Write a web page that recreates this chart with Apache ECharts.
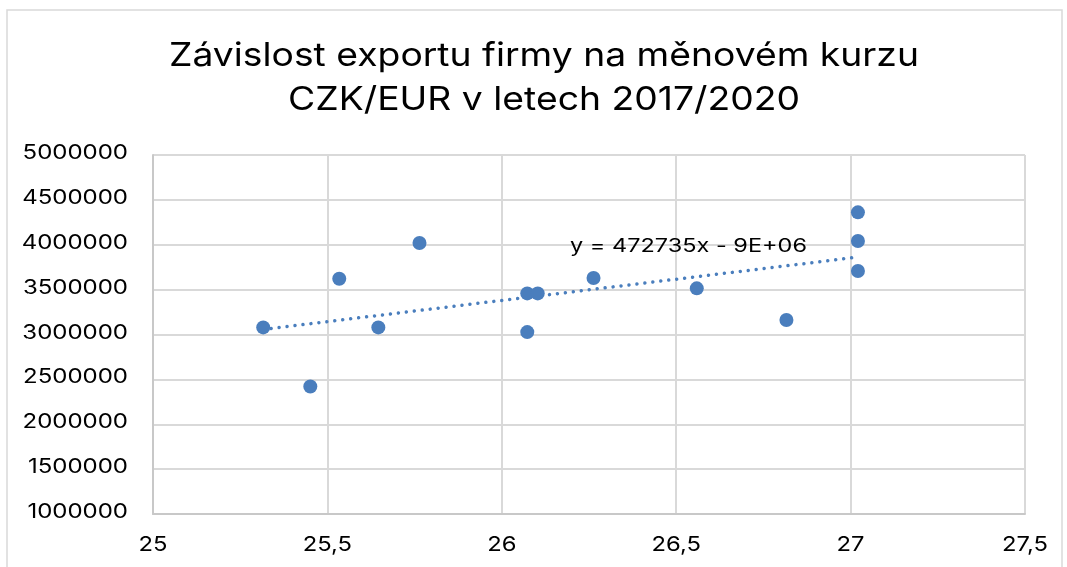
<!DOCTYPE html>
<html>
<head>
<meta charset="utf-8">
<script src="https://cdn.jsdelivr.net/npm/echarts@6/dist/echarts.min.js"></script>
<style>
  html, body { margin: 0; padding: 0; background: #fff; }
  #chart { width: 1067px; height: 567px; }
</style>
</head>
<body>
<div id="chart"></div>
<script>
// Kurz CZK/EUR a export firmy (Kč)
const rates = [25.316, 25.451, 25.534, 25.646, 25.764, 26.073, 26.073, 26.103, 26.263, 26.559, 26.816, 27.021, 27.021, 27.021];
const exports = [3079000, 2421000, 3621000, 3079000, 4019000, 3458000, 3027000, 3458000, 3629000, 3514000, 3161000, 4361000, 4041000, 3707000];

// Popisky os
const xTickLabels = ['25', '25,5', '26', '26,5', '27', '27,5'];
const yTickLabels = ['1000000', '1500000', '2000000', '2500000', '3000000', '3500000', '4000000', '4500000', '5000000'];

// Lineární trend: sklon podle rovnice, úsek z průměrů dat
const slope = 472735;
const equationText = 'y = 472735x - 9E+06';
const titleLines = ['Závislost exportu firmy na měnovém kurzu', 'CZK/EUR v letech 2017/2020'];

const num = s => parseFloat(s.replace(',', '.'));
const xTicks = xTickLabels.map(num);
const yTicks = yTickLabels.map(num);

const mean = a => a.reduce((s, v) => s + v, 0) / a.length;
const intercept = mean(exports) - slope * mean(rates);
const xMin = Math.min(...rates), xMax = Math.max(...rates);
const trend = [[xMin, slope * xMin + intercept], [xMax, slope * xMax + intercept]];

const points = rates.map((r, i) => [r, exports[i]]);
const blue = '#4a7ebd';
const font = 'Inter, "Noto Sans", sans-serif';

const chart = echarts.init(document.getElementById('chart'), null, { renderer: 'canvas' });
chart.setOption({
  animation: false,
  backgroundColor: '#fff',
  grid: { left: 153, right: 42, top: 155, bottom: 53, containLabel: false },
  xAxis: {
    type: 'value', min: xTicks[0], max: xTicks[xTicks.length - 1], interval: xTicks[1] - xTicks[0],
    axisLine: { show: true, lineStyle: { color: '#c8c8c8', width: 2 } },
    axisTick: { show: false },
    axisLabel: { show: false },
    splitLine: { show: true, lineStyle: { color: '#d9d9d9', width: 2 } }
  },
  yAxis: {
    type: 'value', min: yTicks[0], max: yTicks[yTicks.length - 1], interval: yTicks[1] - yTicks[0],
    axisLine: { show: true, lineStyle: { color: '#c8c8c8', width: 2 } },
    axisTick: { show: false },
    axisLabel: { show: false },
    splitLine: { show: true, lineStyle: { color: '#d9d9d9', width: 2 } }
  },
  series: [
    {
      type: 'line',
      data: trend,
      symbol: 'none',
      z: 3,
      lineStyle: { color: blue, width: 3.5, type: [0.01, 8], cap: 'round', opacity: 1 }
    },
    {
      type: 'scatter',
      data: points,
      symbol: 'circle',
      symbolSize: 14,
      z: 4,
      itemStyle: { color: blue, opacity: 1 }
    }
  ]
});

// Písmo grafu je širší než Inter, proto se texty roztahují vodorovně
function label(text, x, y, size, align, sx) {
  return {
    type: 'text', x: x, y: y, scaleX: sx, silent: true, z: 10,
    style: {
      text: text, x: 0, y: 0,
      fontFamily: font, fontSize: size, fill: '#000',
      align: align, verticalAlign: 'middle',
      textAlign: align, textVerticalAlign: 'middle'
    }
  };
}

const toPx = (x, y) => chart.convertToPixel({ gridIndex: 0 }, [x, y]);
const graphics = [
  {
    type: 'rect', silent: true, z: -1,
    shape: { x: 7, y: 10, width: 1055, height: 580 },
    style: { fill: 'none', stroke: '#d9d9d9', lineWidth: 1.5 }
  },
  label(titleLines[0], 544, 56, 33, 'center', 1.13),
  label(titleLines[1], 544, 100, 33, 'center', 1.13),
  label(equationText, 570, 246, 18.5, 'left', 1.27)
];
xTicks.forEach((v, i) => {
  const p = toPx(v, yTicks[0]);
  graphics.push(label(xTickLabels[i], p[0], p[1] + 31, 20.5, 'center', 1.16));
});
yTicks.forEach((v, i) => {
  const p = toPx(xTicks[0], v);
  graphics.push(label(yTickLabels[i], p[0] - 25, p[1] - 2, 20, 'right', 1.2));
});
chart.setOption({ graphic: graphics });
</script>
</body>
</html>
